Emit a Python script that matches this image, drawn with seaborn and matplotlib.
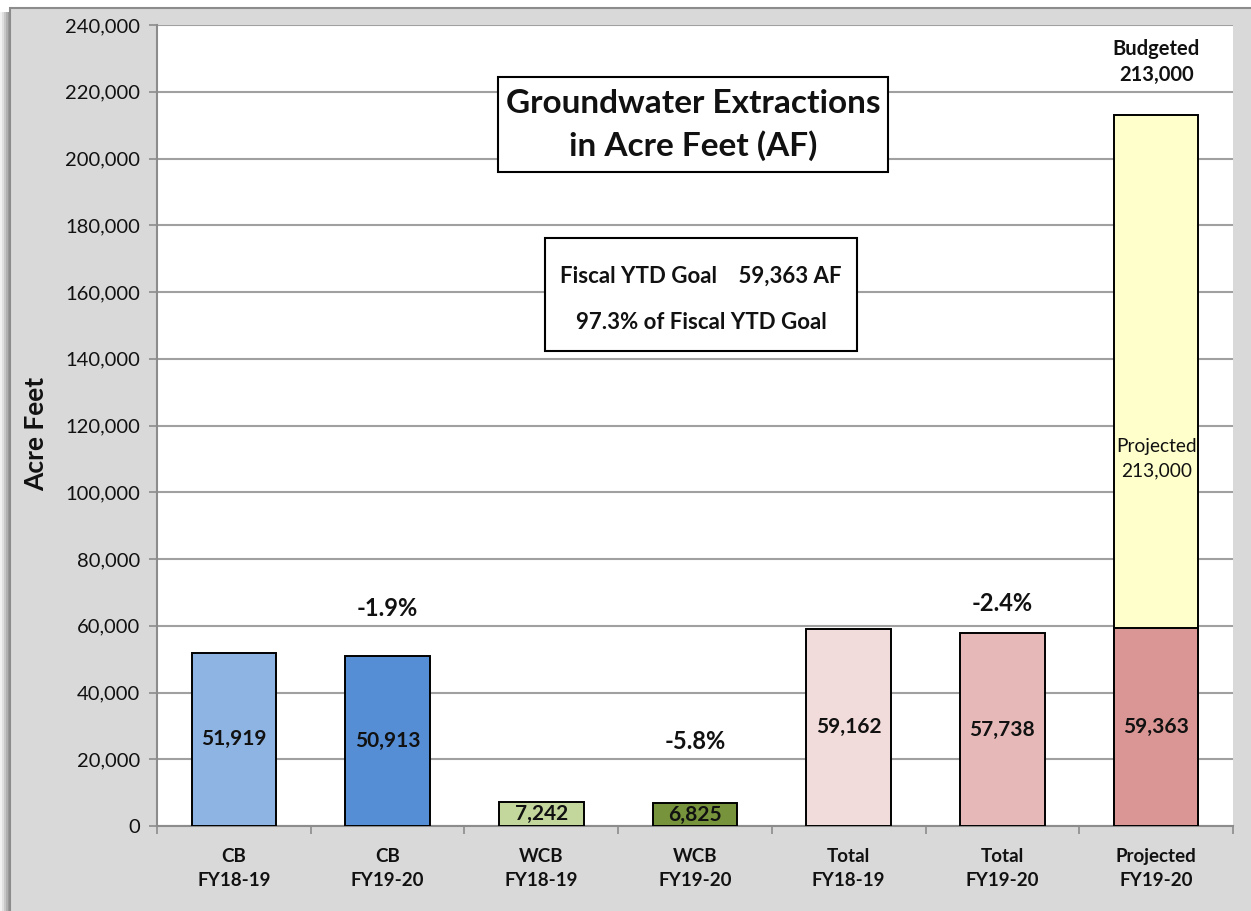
import matplotlib
matplotlib.use("Agg")
import pandas as pd
import seaborn as sns
from matplotlib import pyplot as plt
from matplotlib.patches import Rectangle

# Chart values
categories = ["CB\nFY18-19", "CB\nFY19-20", "WCB\nFY18-19", "WCB\nFY19-20",
              "Total\nFY18-19", "Total\nFY19-20", "Projected\nFY19-20"]
extractions = [51919, 50913, 7242, 6825, 59162, 57738, 59363]
bar_colors = ["#8EB4E3", "#558ED5", "#C3D69B", "#77933C",
              "#F2DCDB", "#E6B9B8", "#D99694"]
projected_total = 213000
pct_changes = {1: "-1.9%", 3: "-5.8%", 5: "-2.4%"}
pct_heights = {1: 65300, 3: 25200, 5: 66800}
ytd_goal = 59363
pct_of_goal = 97.3

df = pd.DataFrame({"category": categories, "af": extractions})
df_top = pd.DataFrame({"category": categories,
                       "af": [None] * 6 + [projected_total]})

sns.set_theme(style="white")
plt.rcParams["font.family"] = ["Lato", "DejaVu Sans"]

fig = plt.figure(figsize=(12.51, 9.11), dpi=100, facecolor="white")

# outer gray panel with shadow on the left
for i, c in enumerate(["#F2F2F2", "#E0E0E0", "#C8C8C8", "#B0B0B0", "#9A9A9A"]):
    fig.patches.append(Rectangle(((i * 2) / 1251, 0), 12 / 1251, 1 - 12 / 911,
                                 transform=fig.transFigure, facecolor=c,
                                 edgecolor="none", zorder=-2))
fig.patches.append(Rectangle((10 / 1251, -0.01), 1.0, 1 - 8 / 911 + 0.01,
                             transform=fig.transFigure, facecolor="#D9D9D9",
                             edgecolor="#8C8C8C", linewidth=1.5, zorder=-1))

ax = fig.add_axes([157 / 1251, 1 - 826 / 911, 1076 / 1251, 801 / 911])
ax.set_facecolor("white")
ax.set_zorder(1)

# yellow projected segment drawn full height, then the actual bars over it
sns.barplot(data=df_top, x="category", y="af", hue="category", palette=["#FFFFCC"] * 7,
            legend=False, width=0.55, edgecolor="black", linewidth=1.4, ax=ax,
            order=categories, hue_order=categories, saturation=1, zorder=3)
sns.barplot(data=df, x="category", y="af", hue="category", palette=bar_colors,
            legend=False, width=0.55, edgecolor="black", linewidth=1.4, ax=ax,
            order=categories, hue_order=categories, saturation=1, zorder=3)

ax.set_ylim(0, 240000)
ax.set_xlim(-0.5, 6.5)
ax.set_yticks(range(0, 240001, 20000))
ax.set_yticklabels([f"{v:,}" for v in range(0, 240001, 20000)], fontsize=14.5,
                   color="#111111")
ax.yaxis.grid(True, color="#A0A0A0", linewidth=1.5, zorder=0)
ax.set_axisbelow(True)
ax.tick_params(axis="y", which="major", length=6, width=1.2, color="#8C8C8C",
               left=True, pad=6)

ax.set_xticks(range(7))
ax.set_xticklabels(categories, fontsize=13.5, fontweight="bold",
                   color="#111111", linespacing=1.5)
ax.tick_params(axis="x", which="major", length=0, pad=16)
ax.set_xticks([i - 0.5 for i in range(8)], minor=True)
ax.tick_params(axis="x", which="minor", length=6, width=1.2, color="#8C8C8C",
               bottom=True)

ax.set_xlabel("")
ax.set_ylabel("Acre Feet", fontsize=19, fontweight="bold", color="#111111")
ax.yaxis.set_label_coords(-0.101, 0.49)

for side in ["top", "right"]:
    ax.spines[side].set_visible(False)
for side in ["left", "bottom"]:
    ax.spines[side].set_color("#8C8C8C")
    ax.spines[side].set_linewidth(1.5)

# value labels inside bars
for i, v in enumerate(extractions):
    ax.text(i, v / 2, f"{v:,}", ha="center", va="center", fontsize=15,
            fontweight="bold", color="#111111", zorder=5)
ax.text(6, 110000, f"Projected\n{projected_total:,}", ha="center", va="center",
        fontsize=13.8, color="#111111", linespacing=1.5, zorder=5)
ax.text(6, 229000, f"Budgeted\n{projected_total:,}", ha="center", va="center",
        fontsize=14.5, fontweight="bold", color="#111111", linespacing=1.35,
        zorder=5)

# percent changes
for i, s in pct_changes.items():
    ax.text(i, pct_heights[i], s, ha="center", va="center", fontsize=17,
            fontweight="bold", color="#111111", zorder=5)

# title box
fig.patches.append(Rectangle((498 / 1251, 1 - 172 / 911), 390 / 1251, 95 / 911,
                             transform=fig.transFigure, facecolor="white",
                             edgecolor="black", linewidth=1.5, zorder=5))
fig.text(693 / 1251, 1 - 125 / 911, "Groundwater Extractions\nin Acre Feet (AF)",
         ha="center", va="center", fontsize=24, fontweight="bold",
         linespacing=1.45, color="#111111", zorder=6)

# goal box
fig.patches.append(Rectangle((545 / 1251, 1 - 351 / 911), 312 / 1251, 113 / 911,
                             transform=fig.transFigure, facecolor="white",
                             edgecolor="black", linewidth=1.5, zorder=5))
fig.text(701 / 1251, 1 - 276 / 911, f"Fiscal YTD Goal    {ytd_goal:,} AF",
         ha="center", va="center", fontsize=16, fontweight="bold",
         color="#111111", zorder=6)
fig.text(701 / 1251, 1 - 322 / 911, f"{pct_of_goal}% of Fiscal YTD Goal",
         ha="center", va="center", fontsize=16, fontweight="bold",
         color="#111111", zorder=6)

fig.savefig("out.png", dpi=100)
